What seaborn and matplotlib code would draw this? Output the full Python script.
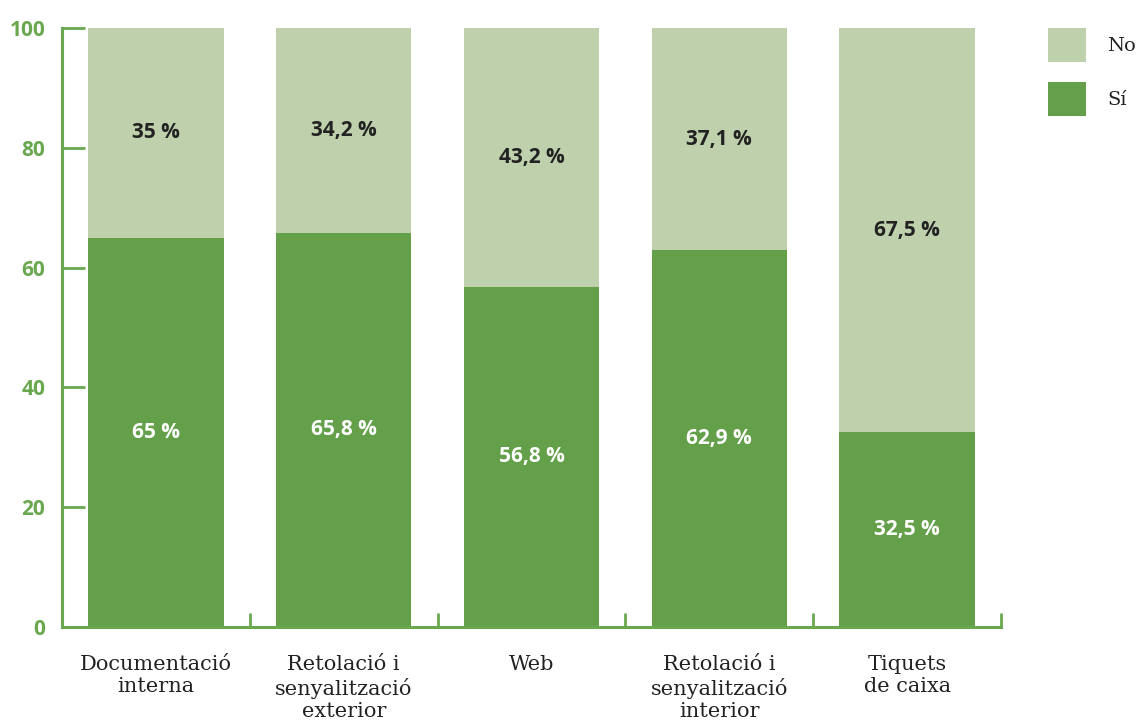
import matplotlib
matplotlib.use("Agg")
import matplotlib.pyplot as plt
from matplotlib.patches import Patch
from matplotlib.ticker import FixedLocator
import seaborn as sns
import pandas as pd

categories = ["Documentació\ninterna",
              "Retolació i\nsenyalització\nexterior",
              "Web",
              "Retolació i\nsenyalització\ninterior",
              "Tiquets\nde caixa"]
si_values = [65.0, 65.8, 56.8, 62.9, 32.5]
no_values = [35.0, 34.2, 43.2, 37.1, 67.5]
y_ticks = [0, 20, 40, 60, 80, 100]

GREEN = "#64a04a"
LIGHT = "#bfd0ac"
AXIS = "#6aa84f"
DARK = "#222222"

sns.set_theme(style="white")
plt.rcParams["font.family"] = ["DejaVu Sans"]

df = pd.DataFrame({"categoria": categories, "Sí": si_values, "No": no_values})
df["total"] = df["Sí"] + df["No"]

fig = plt.figure(figsize=(11.44, 7.26), dpi=100)
ax = fig.add_axes([62 / 1144, 1 - 627 / 726, (1001 - 62) / 1144, (627 - 28) / 726])

# stacked bars: full height in light green, "Sí" part over it in dark green
sns.barplot(data=df, x="categoria", y="total", color=LIGHT, saturation=1,
            width=0.72, ax=ax, order=categories)
sns.barplot(data=df, x="categoria", y="Sí", color=GREEN, saturation=1,
            width=0.72, ax=ax, order=categories)
for p in ax.patches:
    p.set_linewidth(0)

ax.set_xlim(-0.5, 4.5)
ax.set_ylim(0, 100)
ax.set_xlabel("")
ax.set_ylabel("")

# value labels
label_font = ["Open Sans", "DejaVu Sans"]
for i, (s, n) in enumerate(zip(si_values, no_values)):
    ax.text(i, s / 2, f"{s:g} %".replace(".", ","), ha="center", va="center",
            color="white", fontsize=15, fontweight="bold", family=label_font)
    ax.text(i, s + n / 2, f"{n:g} %".replace(".", ","), ha="center", va="center",
            color=DARK, fontsize=15, fontweight="bold", family=label_font)

# axes styling
for side in ["top", "right"]:
    ax.spines[side].set_visible(False)
for side in ["left", "bottom"]:
    ax.spines[side].set_color(AXIS)
    ax.spines[side].set_linewidth(2.2)

ax.set_yticks(y_ticks)
ax.set_yticklabels([str(t) for t in y_ticks])
ax.tick_params(axis="y", direction="in", length=16.5, width=2, color=AXIS,
               labelcolor=AXIS, pad=12, left=True)
for lbl in ax.get_yticklabels():
    lbl.set_fontfamily(label_font)
    lbl.set_fontweight("bold")
    lbl.set_fontsize(15)

ax.set_xticks(range(len(categories)))
ax.set_xticklabels(categories)
ax.xaxis.set_minor_locator(FixedLocator([0.5, 1.5, 2.5, 3.5, 4.5]))
ax.tick_params(axis="x", which="major", length=0, pad=20, labelcolor=DARK)
ax.tick_params(axis="x", which="minor", direction="in", length=10, width=2,
               color=AXIS, bottom=True)
for lbl in ax.get_xticklabels():
    lbl.set_fontfamily(["DejaVu Serif"])
    lbl.set_fontsize(15)
    lbl.set_linespacing(1.22)

handles = [Patch(facecolor=LIGHT, edgecolor="none", label="No"),
           Patch(facecolor=GREEN, edgecolor="none", label="Sí")]
fig.legend(handles=handles, loc="upper left", bbox_to_anchor=(1040 / 1144, 1 - 20 / 726),
           frameon=False, handlelength=1.96, handleheight=2.32, labelspacing=1.03,
           handletextpad=1.1, borderaxespad=0,
           prop={"family": "DejaVu Serif", "size": 14}, labelcolor=DARK)

fig.savefig("out.png", dpi=100)
